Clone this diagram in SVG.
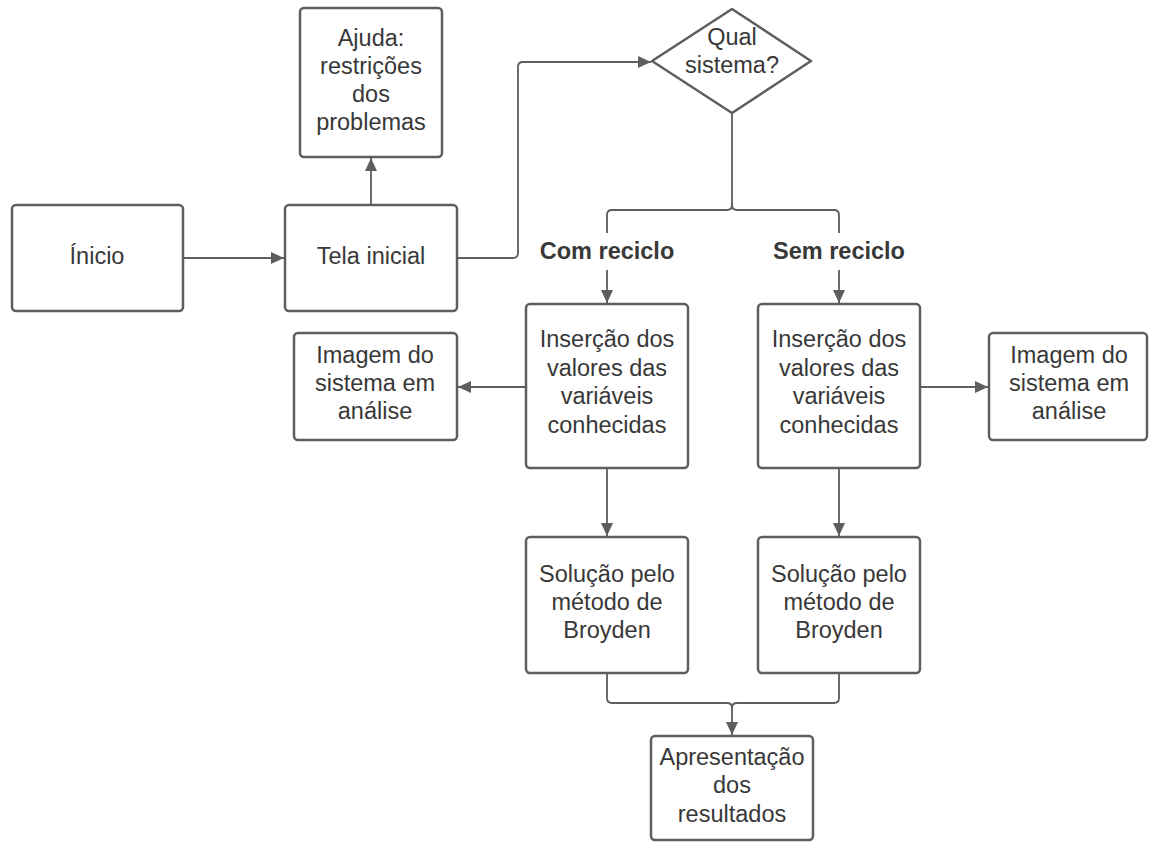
<svg xmlns="http://www.w3.org/2000/svg" width="1149" height="842" viewBox="0 0 1149 842">
<style>
.box{fill:#fff;stroke:#5e5e5e;stroke-width:2.5}
.t{font-family:"Liberation Sans",Arial,sans-serif;font-size:23.5px;fill:#383838;text-anchor:middle}
.b{font-weight:bold}
.c{fill:none;stroke:#5e5e5e;stroke-width:1.8}
</style>
<defs>
<marker id="ah" markerUnits="userSpaceOnUse" markerWidth="14" markerHeight="12" refX="13" refY="6" orient="auto">
<path d="M0,0 L13,6 L0,12 Z" fill="#5e5e5e"/>
</marker>
</defs>
<rect width="1149" height="842" fill="#fff"/>
<g id="connectors">
<path class="c" d="M183,258 H284" marker-end="url(#ah)"/>
<path class="c" d="M371,205 V158" marker-end="url(#ah)"/>
<path class="c" d="M457,258 H513 Q518,258 518,253 V67 Q518,62 523,62 H651" marker-end="url(#ah)"/>
<path class="c" d="M732,113 V205 Q732,210 727,210 H612 Q607,210 607,215 V233"/>
<path class="c" d="M732,205 Q732,210 737,210 H834 Q839,210 839,215 V233"/>
<path class="c" d="M607,270 V303" marker-end="url(#ah)"/>
<path class="c" d="M839,270 V303" marker-end="url(#ah)"/>
<path class="c" d="M526,387 H458" marker-end="url(#ah)"/>
<path class="c" d="M920,387 H988" marker-end="url(#ah)"/>
<path class="c" d="M607,468 V536" marker-end="url(#ah)"/>
<path class="c" d="M839,468 V536" marker-end="url(#ah)"/>
<path class="c" d="M607,673 V698 Q607,703 612,703 H727 Q732,703 732,708"/>
<path class="c" d="M839,673 V698 Q839,703 834,703 H737 Q732,703 732,708 V735" marker-end="url(#ah)"/>
<text class="t b" x="607" y="259">Com reciclo</text>
<text class="t b" x="839" y="259">Sem reciclo</text>
</g>
<g id="inicio">
<rect class="box" x="12" y="205" width="171" height="106" rx="4"/>
<text class="t" x="97" y="264">Ínicio</text>
</g>
<g id="tela">
<rect class="box" x="285" y="205" width="172" height="106" rx="4"/>
<text class="t" x="371" y="264">Tela inicial</text>
</g>
<g id="ajuda">
<rect class="box" x="300" y="8" width="142" height="149" rx="4"/>
<text class="t" x="371" y="46">Ajuda:</text>
<text class="t" x="371" y="74">restrições</text>
<text class="t" x="371" y="102">dos</text>
<text class="t" x="371" y="130">problemas</text>
</g>
<g id="qual">
<path class="box" d="M732,9 L811,61 L732,113 L652,61 Z" stroke-linejoin="round"/>
<text class="t" x="732" y="45">Qual</text>
<text class="t" x="732" y="73">sistema?</text>
</g>
<g id="insercao1">
<rect class="box" x="526" y="304" width="162" height="164" rx="4"/>
<text class="t" x="607" y="347">Inserção dos</text>
<text class="t" x="607" y="376">valores das</text>
<text class="t" x="607" y="404">variáveis</text>
<text class="t" x="607" y="433">conhecidas</text>
</g>
<g id="insercao2">
<rect class="box" x="758" y="304" width="162" height="164" rx="4"/>
<text class="t" x="839" y="347">Inserção dos</text>
<text class="t" x="839" y="376">valores das</text>
<text class="t" x="839" y="404">variáveis</text>
<text class="t" x="839" y="433">conhecidas</text>
</g>
<g id="imagem1">
<rect class="box" x="294" y="333" width="163" height="107" rx="4"/>
<text class="t" x="375" y="363">Imagem do</text>
<text class="t" x="375" y="391">sistema em</text>
<text class="t" x="375" y="419">análise</text>
</g>
<g id="imagem2">
<rect class="box" x="989" y="333" width="158" height="107" rx="4"/>
<text class="t" x="1069" y="363">Imagem do</text>
<text class="t" x="1069" y="391">sistema em</text>
<text class="t" x="1069" y="419">análise</text>
</g>
<g id="solucao1">
<rect class="box" x="526" y="537" width="162" height="136" rx="4"/>
<text class="t" x="607" y="582">Solução pelo</text>
<text class="t" x="607" y="610">método de</text>
<text class="t" x="607" y="638">Broyden</text>
</g>
<g id="solucao2">
<rect class="box" x="758" y="537" width="162" height="136" rx="4"/>
<text class="t" x="839" y="582">Solução pelo</text>
<text class="t" x="839" y="610">método de</text>
<text class="t" x="839" y="638">Broyden</text>
</g>
<g id="apresentacao">
<rect class="box" x="651" y="736" width="162" height="104" rx="4"/>
<text class="t" x="732" y="765">Apresentação</text>
<text class="t" x="732" y="793">dos</text>
<text class="t" x="732" y="822">resultados</text>
</g>
</svg>
